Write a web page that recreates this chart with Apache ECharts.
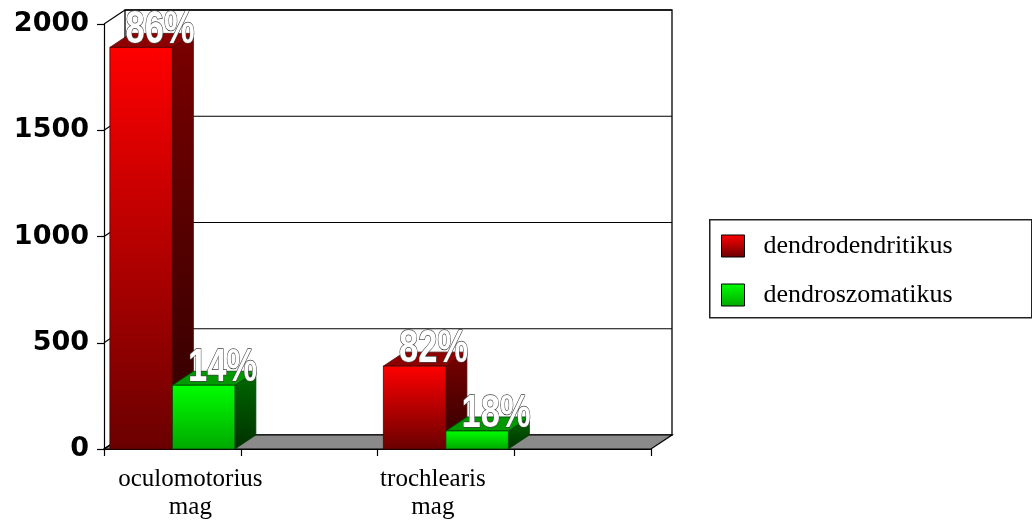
<!DOCTYPE html>
<html><head><meta charset="utf-8">
<script src="https://cdn.jsdelivr.net/npm/echarts@6/dist/echarts.min.js"></script>
<style>html,body{margin:0;padding:0;background:#fff}#c{width:1032px;height:530px}</style>
</head><body><div id="c"></div>
<script>
// Categories along the floor (the empty slots keep the wide gaps between groups)
const categories = ['oculomotorius\nmag', '', 'trochlearis\nmag', ''];
const seriesNames = ['dendrodendritikus', 'dendroszomatikus'];
const dendrodendritikus = [1890, null, 390, null];
const dendroszomatikus = [300, null, 85, null];
const yTicks = [0, 500, 1000, 1500, 2000];

// pseudo-3D depth offset in pixels
const DX = 21, DY = -14;

const values = [dendrodendritikus, dendroszomatikus];
function seriesData(s) {
  const out = [];
  values[s].forEach((v, i) => {
    if (v == null) return;
    const total = values[0][i] + values[1][i];
    out.push([i, v, Math.round(v / total * 100)]);
  });
  return out;
}

const palettes = [
  { front: ['#ff0000', '#6a0000'], side: ['#7a0000', '#2e0000'], top: '#8e0000', edge: '#4a0000' },
  { front: ['#00ff00', '#00a800'], side: ['#006a00', '#003000'], top: '#009a00', edge: '#004000' }
];
function vgrad(c) {
  return new echarts.graphic.LinearGradient(0, 0, 0, 1, [{ offset: 0, color: c[0] }, { offset: 1, color: c[1] }]);
}

function barRender(s) {
  const p = palettes[s];
  return function (params, api) {
    const cat = api.value(0), v = api.value(1), pct = api.value(2);
    const base = api.coord([cat, 0]);
    const top = api.coord([cat, v]);
    const band = api.size([1, 0])[0];
    const bw = band * 0.457;
    const x0 = base[0] - bw + s * bw;
    const x1 = x0 + bw;
    const yT = top[1], yB = base[1];
    return {
      type: 'group',
      children: [
        { type: 'polygon', shape: { points: [[x1, yT], [x1 + DX, yT + DY], [x1 + DX, yB + DY], [x1, yB]] },
          style: { fill: vgrad(p.side), stroke: p.edge, lineWidth: 0.8 } },
        { type: 'polygon', shape: { points: [[x0, yT], [x0 + DX, yT + DY], [x1 + DX, yT + DY], [x1, yT]] },
          style: { fill: p.top, stroke: p.edge, lineWidth: 0.8 } },
        { type: 'rect', shape: { x: x0, y: yT, width: bw, height: yB - yT },
          style: { fill: vgrad(p.front), stroke: p.edge, lineWidth: 0.8 } },
        { type: 'text', x: x0 + bw / 2 + 19, y: yT - 17, scaleX: 0.75, z2: 10,
          style: { text: pct + '%', x: 0, y: 0, align: 'center', verticalAlign: 'middle',
            font: 'bold 46px "Liberation Sans", Arial, sans-serif',
            fill: '#ffffff', stroke: '#444444', lineWidth: 1.4 } }
      ]
    };
  };
}

function frameRender(params, api) {
  const cs = params.coordSys;
  const L = cs.x, R = cs.x + cs.width;
  const v = api.value(1);
  const y = api.coord([0, v])[1];
  const yB = api.coord([0, 0])[1];
  const yTop = api.coord([0, yTicks[yTicks.length - 1]])[1];
  const line = { stroke: '#000', lineWidth: 1.2 };
  const children = [
    { type: 'line', shape: { x1: L, y1: y, x2: L + DX, y2: y + DY }, style: line }
  ];
  if (v === 0) {
    children.unshift(
      { type: 'rect', shape: { x: L + DX, y: yTop + DY, width: R - L, height: yB - yTop }, style: { fill: '#fff', stroke: '#000', lineWidth: 1.3 } },
      { type: 'polygon', shape: { points: [[L, yB], [R, yB], [R + DX, yB + DY], [L + DX, yB + DY]] }, style: { fill: '#8a8a8a', stroke: '#000', lineWidth: 1.2 } }
    );
  } else {
    children.push({ type: 'line', shape: { x1: L + DX, y1: y + DY, x2: R + DX, y2: y + DY }, style: line });
  }
  return { type: 'group', children: children };
}

const chart = echarts.init(document.getElementById('c'), null, { renderer: 'canvas' });
chart.setOption({
  backgroundColor: '#ffffff',
  animation: false,
  grid: { left: 104, right: 381, top: 24, bottom: 81 },
  legend: {
    orient: 'vertical', left: 721, top: 233, padding: 0,
    itemWidth: 23, itemHeight: 22, itemGap: 23,
    textStyle: { fontFamily: '"Liberation Serif", "Times New Roman", serif', fontSize: 26, color: '#000', lineHeight: 26, padding: [0, 0, 0, 14] },
    data: [
      { name: seriesNames[0], icon: 'rect', itemStyle: { color: vgrad(palettes[0].front), borderColor: '#000', borderWidth: 1 } },
      { name: seriesNames[1], icon: 'rect', itemStyle: { color: vgrad(palettes[1].front), borderColor: '#000', borderWidth: 1 } }
    ]
  },
  graphic: [
    { type: 'rect', left: 709, top: 219, z: -1, shape: { width: 322, height: 98 }, style: { fill: '#fff', stroke: '#222', lineWidth: 1.5 } }
  ],
  xAxis: {
    type: 'category', data: categories, boundaryGap: true,
    axisLine: { lineStyle: { color: '#000', width: 1.2 } },
    axisTick: { show: true, length: 7, lineStyle: { color: '#000', width: 1.2 } },
    axisLabel: {
      interval: 0, margin: 16,
      formatter: function (val, idx) {
        if (!val) return '';
        const key = idx === 0 ? 'a' : 'b';
        return val.split('\n').map(t => '{' + key + '|' + t + '}').join('\n');
      },
      rich: {
        a: { fontFamily: '"Liberation Serif", "Times New Roman", serif', fontSize: 25, lineHeight: 28, color: '#000', padding: [0, 0, 0, 36] },
        b: { fontFamily: '"Liberation Serif", "Times New Roman", serif', fontSize: 25, lineHeight: 28, color: '#000', padding: [0, 26, 0, 0] }
      }
    }
  },
  yAxis: {
    type: 'value', min: 0, max: 2000, interval: 500,
    axisLine: { show: true, lineStyle: { color: '#000', width: 1.2 } },
    axisTick: { show: true, length: 7, lineStyle: { color: '#000', width: 1.2 } },
    splitLine: { show: false },
    axisLabel: { margin: 15, fontFamily: '"DejaVu Sans", sans-serif', fontWeight: 'bold', fontSize: 27, color: '#000',
      formatter: function (v) { return String(v); } }
  },
  series: [
    { type: 'custom', name: 'frame', silent: true, z: 1, renderItem: frameRender,
      data: yTicks.map(v => [0, v]), encode: { x: 0, y: 1 } },
    { type: 'custom', name: seriesNames[0], z: 3, renderItem: barRender(0),
      itemStyle: { color: '#e00000' }, data: seriesData(0), encode: { x: 0, y: 1 } },
    { type: 'custom', name: seriesNames[1], z: 4, renderItem: barRender(1),
      itemStyle: { color: '#00d000' }, data: seriesData(1), encode: { x: 0, y: 1 } }
  ]
});
</script>
</body></html>
